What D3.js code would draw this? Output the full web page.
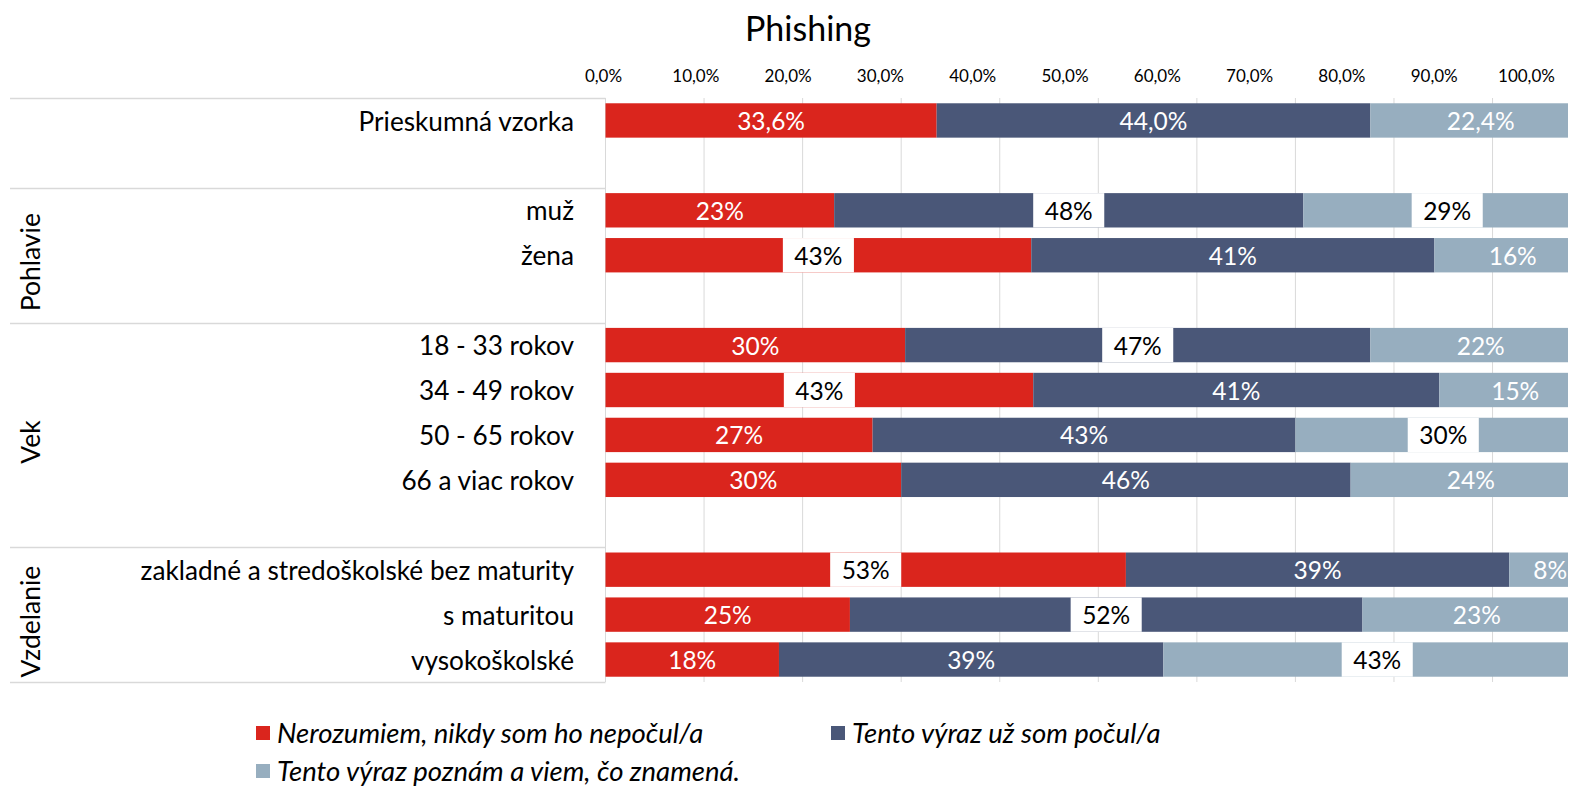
<!DOCTYPE html>
<html>
<head>
<meta charset="utf-8">
<script src="https://cdn.jsdelivr.net/npm/d3@7"></script>
<style>
  html, body { margin: 0; padding: 0; background: #fff; }
  svg { display: block; font-family: Lato, "Noto Sans", sans-serif; }
</style>
</head>
<body>
<svg id="chart" width="1573" height="790"></svg>
<script>
// ---------------- data ----------------
const title = "Phishing";
const categories = [
  "Prieskumná vzorka",
  "muž", "žena",
  "18 - 33 rokov", "34 - 49 rokov", "50 - 65 rokov", "66 a viac rokov",
  "zakladné a stredoškolské bez maturity", "s maturitou", "vysokoškolské"
];
const groups = [
  "",
  "Pohlavie", "Pohlavie",
  "Vek", "Vek", "Vek", "Vek",
  "Vzdelanie", "Vzdelanie", "Vzdelanie"
];
const seriesNames = [
  "Nerozumiem, nikdy som ho nepočul/a",
  "Tento výraz už som počul/a",
  "Tento výraz poznám a viem, čo znamená."
];
const nerozumiem = [33.6, 23.2, 43.2, 30.4, 43.4, 27.1, 30.0, 52.8, 24.8, 17.6];
const pocul      = [44.0, 47.6, 40.9, 47.2, 41.2, 42.9, 45.6, 38.9, 52.0, 39.0];
const poznam     = [22.4, 29.2, 15.9, 22.4, 15.4, 30.0, 24.4,  8.3, 23.2, 43.4];
const labelDecimals = [1, 0, 0, 0, 0, 0, 0, 0, 0, 0];
// data labels drawn on a white box (index of category per series)
const boxedNerozumiem = [2, 4, 7];
const boxedPocul      = [1, 3, 8];
const boxedPoznam     = [1, 5, 9];
const tickValues = [0, 10, 20, 30, 40, 50, 60, 70, 80, 90, 100];

// ---------------- setup ----------------
const colors = ["#DA251D", "#4A5778", "#97AEBF"];
const svg = d3.select("#chart");
const plotLeft = 605.5, plotRight = 1568, plotTop = 98, plotBottom = 682;

const x = d3.scaleLinear().domain([0, 100]).range([plotLeft, plotLeft + 985.6]);
const xTickLabels = d3.scaleLinear().domain([0, 100]).range([603, 1526]);

// band domain with spacer rows between groups
const groupOrder = [];
groups.forEach(g => { if (!groupOrder.includes(g)) groupOrder.push(g); });
const bandDomain = [];
groupOrder.forEach((g, gi) => {
  categories.forEach((c, i) => { if (groups[i] === g) bandDomain.push(c); });
  if (gi < groupOrder.length - 1) bandDomain.push("__gap" + gi);
});
const y = d3.scaleBand().domain(bandDomain).range([plotTop, plotBottom])
  .paddingInner(0.235).paddingOuter(0.1175);

const rows = categories.map((c, i) => ({
  cat: c, i,
  s0: nerozumiem[i], s1: pocul[i], s2: poznam[i]
}));
const keys = ["s0", "s1", "s2"];
const stacked = d3.stack().keys(keys)(rows);
const boxed = [boxedNerozumiem, boxedPocul, boxedPoznam];

const fmtVal = (v, d) => d3.format("." + d + "f")(v).replace(".", ",") + "%";

// ---------------- title ----------------
svg.append("text")
  .attr("x", 808).attr("y", 41)
  .attr("text-anchor", "middle")
  .attr("font-size", 34)
  .attr("fill", "#000")
  .text(title);

// ---------------- gridlines ----------------
svg.append("g").selectAll("line")
  .data(tickValues)
  .join("line")
  .attr("x1", d => x(d)).attr("x2", d => x(d))
  .attr("y1", plotTop).attr("y2", plotBottom)
  .attr("stroke", "#D9D9D9").attr("stroke-width", 1);

// tick labels (top axis)
const axis = d3.axisTop(xTickLabels)
  .tickValues(tickValues)
  .tickSize(0)
  .tickPadding(0)
  .tickFormat(d => fmtVal(d, 1));
const ax = svg.append("g").attr("transform", "translate(0,82)").call(axis);
ax.select(".domain").remove();
ax.selectAll("text").attr("font-size", 17).attr("fill", "#000")
  .attr("font-family", "Lato, sans-serif").attr("dy", 0);

// ---------------- category axis structure ----------------
const sepY = [plotTop];
groupOrder.forEach((g, gi) => {
  if (gi < groupOrder.length - 1) {
    const gapKey = "__gap" + gi;
    sepY.push(y(gapKey) + y.bandwidth() + y.step() * y.paddingInner() / 2);
  } else {
    sepY.push(plotBottom);
  }
});
svg.append("g").selectAll("line")
  .data(sepY)
  .join("line")
  .attr("x1", 10).attr("x2", plotLeft)
  .attr("y1", d => Math.round(d) + 0.5).attr("y2", d => Math.round(d) + 0.5)
  .attr("stroke", "#D9D9D9").attr("stroke-width", 1.5);

// group labels (rotated)
groupOrder.forEach((g, gi) => {
  if (!g) return;
  const cy = (sepY[gi] + sepY[gi + 1]) / 2 + 7;
  svg.append("text")
    .attr("transform", `translate(40,${cy}) rotate(-90)`)
    .attr("text-anchor", "middle")
    .attr("font-size", 26.5)
    .attr("fill", "#000")
    .text(g);
});

// category labels
svg.append("g").selectAll("text")
  .data(categories)
  .join("text")
  .attr("x", 574)
  .attr("y", d => y(d) + y.bandwidth() / 2 + 1)
  .attr("dy", "0.35em")
  .attr("text-anchor", "end")
  .attr("font-size", 26.2)
  .attr("fill", "#000")
  .text(d => d);

// ---------------- bars ----------------
svg.append("defs").append("clipPath").attr("id", "plotClip")
  .append("rect").attr("x", plotLeft - 1).attr("y", 0)
  .attr("width", plotRight - plotLeft + 1).attr("height", 790);

const plot = svg.append("g").attr("clip-path", "url(#plotClip)");

stacked.forEach((layer, si) => {
  plot.append("g").selectAll("rect")
    .data(layer)
    .join("rect")
    .attr("x", d => x(d[0]))
    .attr("y", d => y(d.data.cat))
    .attr("width", d => x(d[1]) - x(d[0]))
    .attr("height", y.bandwidth())
    .attr("fill", colors[si]);
});

// data labels
stacked.forEach((layer, si) => {
  layer.forEach(d => {
    const i = d.data.i;
    const cx = (x(d[0]) + x(d[1])) / 2;
    const cy = y(d.data.cat) + y.bandwidth() / 2;
    const val = d.data[keys[si]];
    const isBoxed = boxed[si].includes(i);
    const g = plot.append("g");
    const t = g.append("text")
      .attr("x", cx).attr("y", cy + 1).attr("dy", "0.35em")
      .attr("text-anchor", "middle")
      .attr("font-size", 24.5)
      .attr("fill", isBoxed ? "#000" : "#fff")
      .text(fmtVal(val, labelDecimals[i]));
    if (isBoxed) {
      const w = t.node().getComputedTextLength() + 23;
      g.insert("rect", "text")
        .attr("x", cx - w / 2).attr("y", y(d.data.cat))
        .attr("width", w).attr("height", y.bandwidth())
        .attr("fill", "#fff");
    }
  });
});

// ---------------- legend ----------------
const legendPos = [
  { x: 256, y: 733 },
  { x: 831, y: 733 },
  { x: 256, y: 771 }
];
seriesNames.forEach((name, si) => {
  const p = legendPos[si];
  svg.append("rect")
    .attr("x", p.x).attr("y", p.y - 7)
    .attr("width", 14).attr("height", 14)
    .attr("fill", colors[si]);
  svg.append("text")
    .attr("x", p.x + 21).attr("y", p.y)
    .attr("dy", "0.35em")
    .attr("font-size", 27.5)
    .attr("font-style", "italic")
    .attr("fill", "#000")
    .text(name);
});
</script>
</body>
</html>
